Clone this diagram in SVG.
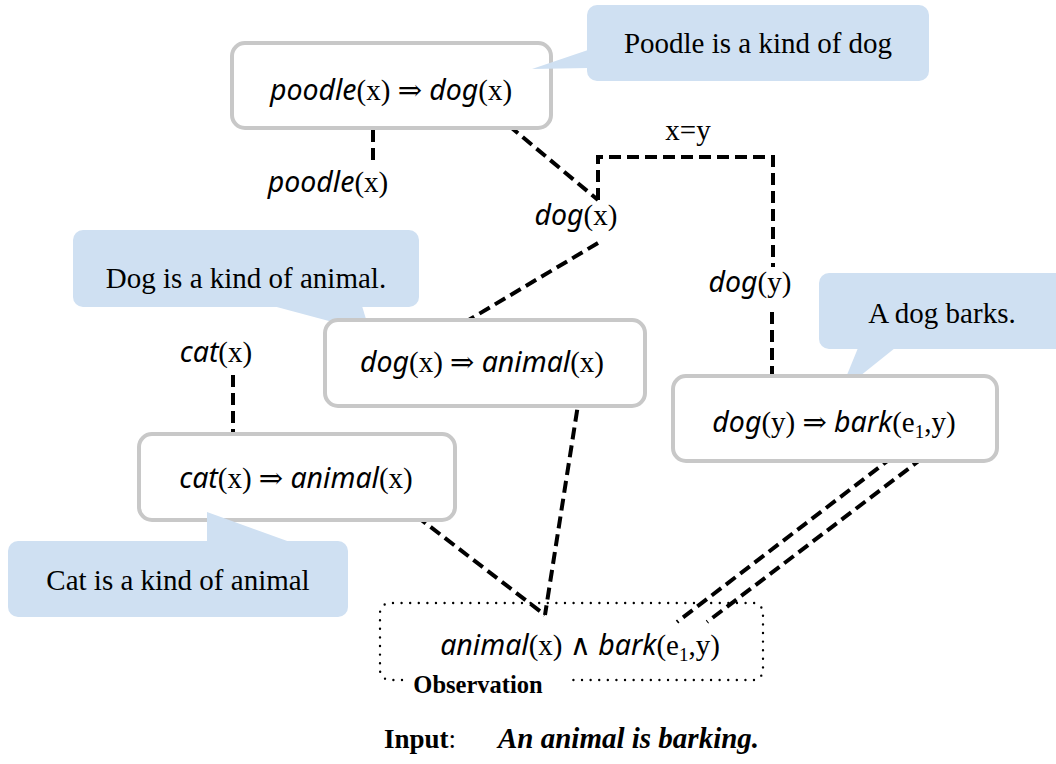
<svg xmlns="http://www.w3.org/2000/svg" width="1056" height="764" viewBox="0 0 1056 764">
  <style>
    .box { fill: #ffffff; stroke: #c8c8c8; stroke-width: 4; }
    .note { fill: #cfe0f2; stroke: none; }
    .t { font-family: "Liberation Serif", "DejaVu Serif", serif; font-size: 29px; fill: #000; }
    .it { font-family: "Noto Sans", "DejaVu Sans", sans-serif; font-style: italic; font-size: 28.5px; }
    .sub { font-size: 19px; }
    .caption { font-size: 24.5px; font-weight: bold; }
    .label { font-size: 27px; font-weight: bold; }
    .sentence { font-size: 29px; font-weight: bold; font-style: italic; }
    .link { fill: none; stroke: #000; stroke-width: 4; stroke-dasharray: 12 6; }
    .dots { fill: none; stroke: #000; stroke-width: 2.4; stroke-dasharray: 0 8.6; stroke-linecap: round; }
  </style>

  <!-- connectors -->
  <g id="connectors">
    <line class="link" x1="373" y1="112" x2="373" y2="160"/>
    <line class="link" x1="495" y1="114" x2="598" y2="200"/>
    <polyline class="link" points="598,200 598,157 773,157 773,267"/>
    <line class="link" x1="598" y1="243" x2="425" y2="346"/>
    <line class="link" x1="772" y1="312" x2="772" y2="396"/>
    <line class="link" x1="233" y1="375" x2="233" y2="458"/>
    <line class="link" x1="580" y1="392" x2="545" y2="615"/>
    <line class="link" x1="402" y1="505" x2="545" y2="615"/>
    <line class="link" x1="907" y1="446" x2="677" y2="622"/>
    <line class="link" x1="937" y1="447" x2="707" y2="622"/>
  </g>

  <!-- rule: poodle => dog -->
  <g id="rule-poodle-dog">
    <rect class="box" x="232" y="43" width="319" height="85" rx="13"/>
    <text class="t" x="391" y="100" text-anchor="middle"><tspan class="it">poodle</tspan>(x) ⇒ <tspan class="it">dog</tspan>(x)</text>
  </g>
  <g id="note-poodle">
    <rect class="note" x="587" y="5" width="342" height="76" rx="10"/>
    <polygon class="note" points="588,50 532,69 588,68"/>
    <text class="t" x="758" y="53" text-anchor="middle">Poodle is a kind of dog</text>
  </g>

  <g id="fact-poodle">
    <text class="t" x="328" y="192" text-anchor="middle"><tspan class="it">poodle</tspan>(x)</text>
  </g>

  <g id="label-xy">
    <text class="t" x="688" y="140" text-anchor="middle">x=y</text>
  </g>

  <g id="fact-dog-x">
    <text class="t" x="576" y="225" text-anchor="middle"><tspan class="it">dog</tspan>(x)</text>
  </g>

  <g id="fact-dog-y">
    <text class="t" x="750" y="292" text-anchor="middle"><tspan class="it">dog</tspan>(y)</text>
  </g>

  <!-- rule: dog => animal -->
  <g id="note-dog">
    <rect class="note" x="73" y="230" width="346" height="77" rx="10"/>
    <polygon class="note" points="273,306 370,332 362,306"/>
    <text class="t" x="246" y="288" text-anchor="middle">Dog is a kind of animal.</text>
  </g>
  <g id="rule-dog-animal">
    <rect class="box" x="325" y="320" width="320" height="86" rx="13"/>
    <text class="t" x="482" y="372" text-anchor="middle"><tspan class="it">dog</tspan>(x) ⇒ <tspan class="it">animal</tspan>(x)</text>
  </g>

  <!-- rule: dog => bark -->
  <g id="note-bark">
    <rect class="note" x="819" y="273" width="250" height="76" rx="10"/>
    <polygon class="note" points="858,348 840,392 895,348"/>
    <text class="t" x="942" y="323" text-anchor="middle">A dog barks.</text>
  </g>
  <g id="rule-dog-bark">
    <rect class="box" x="673" y="376" width="324" height="85" rx="13"/>
    <text class="t" x="834" y="432" text-anchor="middle"><tspan class="it">dog</tspan>(y) ⇒ <tspan class="it">bark</tspan>(e<tspan class="sub" dy="6">1</tspan><tspan dy="-6">,y)</tspan></text>
  </g>

  <!-- rule: cat => animal -->
  <g id="fact-cat">
    <text class="t" x="216" y="362" text-anchor="middle"><tspan class="it">cat</tspan>(x)</text>
  </g>
  <g id="rule-cat-animal">
    <rect class="box" x="139" y="434" width="316" height="86" rx="13"/>
    <text class="t" x="296" y="488" text-anchor="middle"><tspan class="it">cat</tspan>(x) ⇒ <tspan class="it">animal</tspan>(x)</text>
  </g>
  <g id="note-cat">
    <polygon class="note" points="207,542 207,512 290,542"/>
    <rect class="note" x="8" y="541" width="340" height="76" rx="10"/>
    <text class="t" x="178" y="590" text-anchor="middle">Cat is a kind of animal</text>
  </g>

  <!-- observation -->
  <g id="observation">
    <path class="dots" d="M402,680 H390 A10,10 0 0 1 380,670 V613 A10,10 0 0 1 390,603 H753 A10,10 0 0 1 763,613 V670 A10,10 0 0 1 753,680 H572"/>
    <text class="t" x="580" y="655" text-anchor="middle"><tspan class="it">animal</tspan>(x) ∧ <tspan class="it">bark</tspan>(e<tspan class="sub" dy="6">1</tspan><tspan dy="-6">,y)</tspan></text>
    <text class="t caption" x="478" y="693" text-anchor="middle">Observation</text>
  </g>

  <!-- input sentence -->
  <g id="input">
    <text class="t label" x="384" y="748">Input<tspan font-weight="normal">:</tspan></text>
    <text class="t sentence" x="498" y="748">An animal is barking.</text>
  </g>
</svg>
